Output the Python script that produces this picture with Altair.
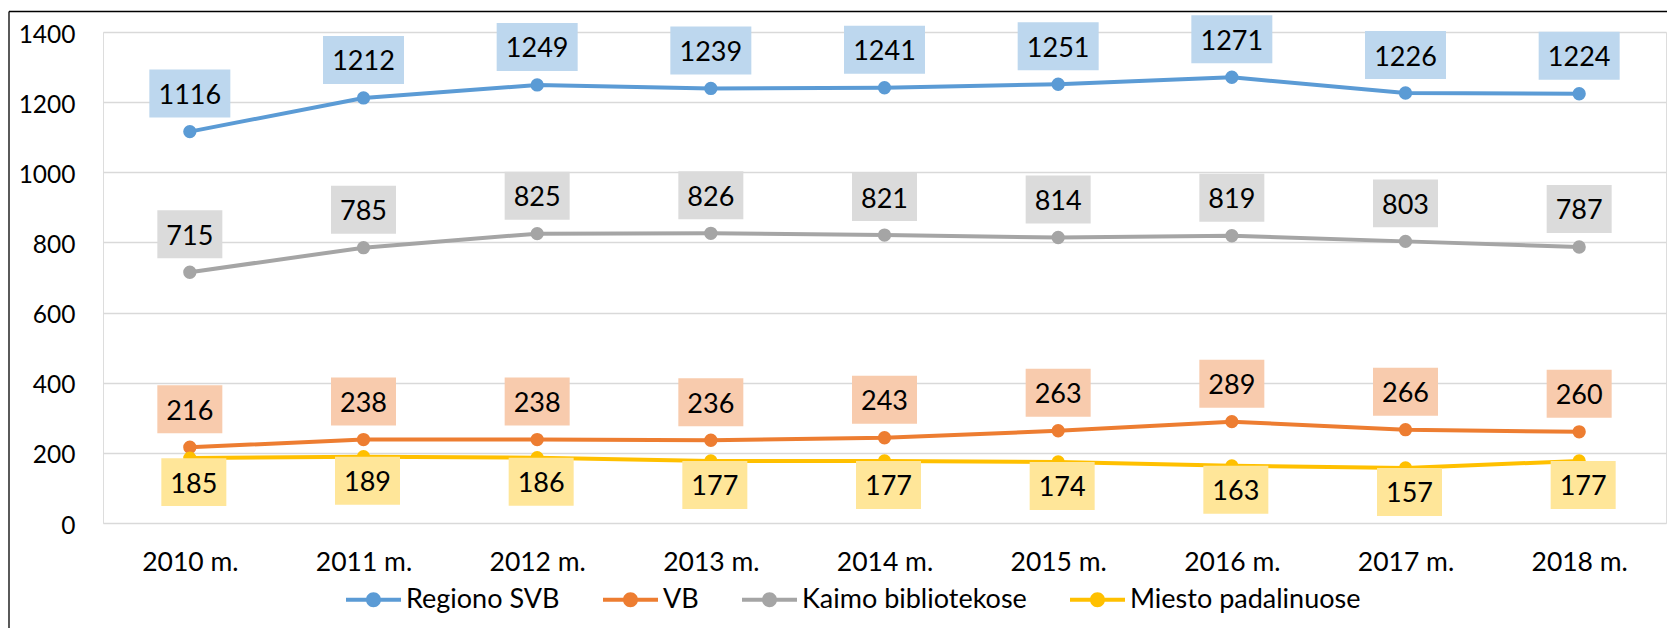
import altair as alt
import pandas as pd

years = ["2010 m.", "2011 m.", "2012 m.", "2013 m.", "2014 m.",
         "2015 m.", "2016 m.", "2017 m.", "2018 m."]
series_names = ["Regiono SVB", "VB", "Kaimo bibliotekose", "Miesto padalinuose"]
regiono_svb = [1116, 1212, 1249, 1239, 1241, 1251, 1271, 1226, 1224]
vb = [216, 238, 238, 236, 243, 263, 289, 266, 260]
kaimo = [715, 785, 825, 826, 821, 814, 819, 803, 787]
miesto = [185, 189, 186, 177, 177, 174, 163, 157, 177]
y_ticks = [0, 200, 400, 600, 800, 1000, 1200, 1400]

line_colors = ["#5B9BD5", "#ED7D31", "#A5A5A5", "#FFC000"]
box_colors = ["#BDD7EE", "#F8CBAD", "#DBDBDB", "#FFE699"]

rows = []
for name, vals in zip(series_names, [regiono_svb, vb, kaimo, miesto]):
    for yr, v in zip(years, vals):
        rows.append({"year": yr, "series": name, "value": v})
df = pd.DataFrame(rows)

FONT = "Lato"
TXT = "#000000"

x_enc = alt.X("year:O", sort=years, scale=alt.Scale(padding=0.5), title=None,
              axis=alt.Axis(labelAngle=0, domain=False, ticks=False, tickSize=0,
                            grid=False, labelPadding=26, labelFont=FONT,
                            labelFontSize=26.5, labelColor=TXT))
y_enc = alt.Y("value:Q", scale=alt.Scale(domain=[0, 1400], nice=False), title=None,
              axis=alt.Axis(values=y_ticks, format="d", domain=False, ticks=False, tickSize=0,
                            grid=True, gridColor="#D9D9D9", gridWidth=1.5,
                            labelPadding=28, labelOffset=3, labelFont=FONT,
                            labelFontSize=24.5, labelColor=TXT))

base = alt.Chart(df).encode(x=x_enc, y=y_enc)

LEG = ("M-1,-0.073H1V0.073H-1Z "
       "M0.273,0A0.273,0.273 0 1 1 -0.273,0A0.273,0.273 0 1 1 0.273,0Z")

BOX4 = "M-1,-0.593H1V0.593H-1Z"
BOX3 = "M-1,-0.738H1V0.738H-1Z"


def only(name):
    return base.transform_filter(alt.datum.series == name)


line_layers = [
    only(name).mark_line(strokeWidth=4, strokeJoin="round", strokeCap="round", color=col)
    for name, col in zip(series_names, line_colors)
]

points = base.mark_point(filled=True, size=177, opacity=1, strokeWidth=0).encode(
    color=alt.Color("series:N", sort=series_names,
                    scale=alt.Scale(domain=series_names, range=line_colors),
                    legend=alt.Legend(title=None, orient="none", legendX=243, legendY=540,
                                      direction="horizontal", columns=4,
                                      symbolType=LEG, symbolSize=3025, symbolStrokeWidth=0,
                                      labelFont=FONT, labelFontSize=27, labelColor=TXT,
                                      labelOffset=5, columnPadding=43, padding=0,
                                      labelLimit=400)),
)

# label boxes: (shape, size, x offset, y offset) per series
box_specs = [
    (BOX4, 6561, 0, -38),
    (BOX3, 4225, 0, -38),
    (BOX3, 4225, 0, -38),
    (BOX3, 4225, 4, 24),
]
box_layers = [
    only(name).mark_point(shape=shape, size=size, filled=True, opacity=1, strokeWidth=0,
                          color=bcol, xOffset=xo, yOffset=yo)
    for name, bcol, (shape, size, xo, yo) in zip(series_names, box_colors, box_specs)
]
label_layers = [
    only(name).mark_text(font=FONT, fontSize=27, color=TXT, align="center",
                         baseline="middle", dx=xo, dy=yo + 2.5).encode(text="value:Q")
    for name, (shape, size, xo, yo) in zip(series_names, box_specs)
]

frame_src = alt.Chart(alt.Data(values=[{"k": 1}]))
frame_left = frame_src.mark_rule(color="#000000", strokeWidth=1.3).encode(
    x=alt.value(-94), y=alt.value(-20.5), y2=alt.value(700))
frame_top = frame_src.mark_rule(color="#000000", strokeWidth=1.3).encode(
    x=alt.value(-94), x2=alt.value(1700), y=alt.value(-20.5))

chart = alt.layer(
    *line_layers, points, *box_layers, *label_layers, frame_left, frame_top
).properties(
    width=1563, height=491,
    autosize=alt.AutoSizeParams(type="none"),
    padding={"left": 95, "top": 24, "right": 1, "bottom": 105},
).configure_view(stroke=None).configure(background="#ffffff")

chart.save("out.html", embed_options={"renderer": "svg", "actions": False})
